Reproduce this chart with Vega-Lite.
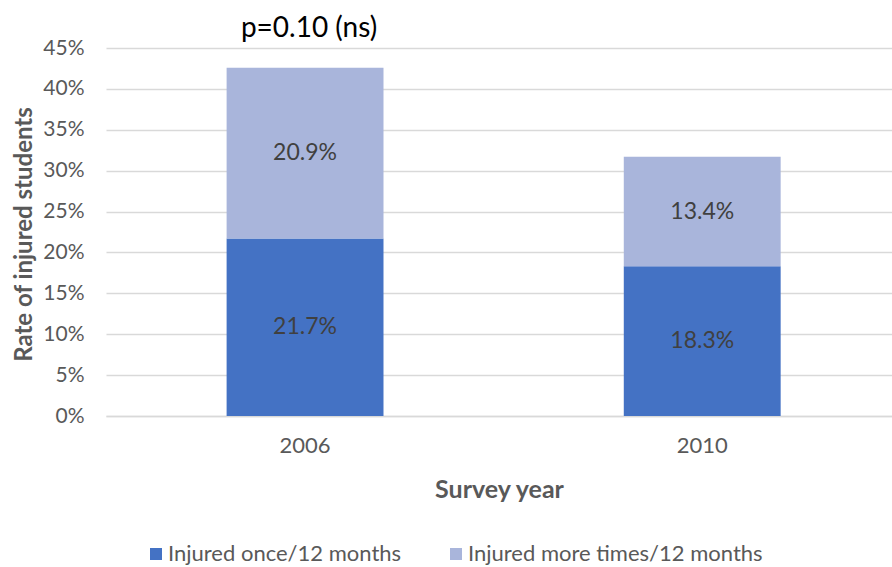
{
  "$schema": "https://vega.github.io/schema/vega-lite/v6.json",
  "autosize": "none",
  "width": 786,
  "height": 368,
  "padding": {"left": 106, "top": 48, "right": 0, "bottom": 151},
  "background": "white",
  "config": {
    "font": "Lato",
    "view": {"stroke": null}
  },
  "layer": [
    {
      "data": {
        "values": [
          {"year": "2006", "series": "Injured once/12 months", "ord": 1, "value": 0.217},
          {"year": "2006", "series": "Injured more times/12 months", "ord": 2, "value": 0.209},
          {"year": "2010", "series": "Injured once/12 months", "ord": 1, "value": 0.183},
          {"year": "2010", "series": "Injured more times/12 months", "ord": 2, "value": 0.134}
        ]
      },
      "transform": [
        {"stack": "value", "groupby": ["year"], "sort": [{"field": "ord", "order": "ascending"}], "as": ["v0", "v1"]},
        {"calculate": "(datum.v0 + datum.v1) / 2", "as": "mid"}
      ],
      "layer": [
        {
          "mark": {"type": "bar"},
          "encoding": {
            "x": {
              "field": "year", "type": "nominal",
              "scale": {"paddingInner": 0.605, "paddingOuter": 0.292, "align": 0.52},
              "axis": {
                "title": "Survey year", "labelAngle": 0, "ticks": false,
                "domainColor": "#D9D9D9", "domainWidth": 1.5,
                "labelFontSize": 22, "labelColor": "#595959", "labelPadding": 19,
                "titleFontSize": 25, "titleFontWeight": "bold", "titleColor": "#595959",
                "titleY": 73, "titleBaseline": "middle"
              }
            },
            "y": {
              "field": "v0", "type": "quantitative",
              "scale": {"domain": [0, 0.45]},
              "axis": {
                "title": "Rate of injured students", "format": ".0%",
                "values": [0, 0.05, 0.1, 0.15, 0.2, 0.25, 0.3, 0.35, 0.4, 0.45],
                "labelOverlap": false,
                "ticks": false, "domain": false,
                "gridColor": "#D9D9D9", "gridWidth": 1.5,
                "labelFontSize": 21, "labelColor": "#595959", "labelPadding": 22,
                "titleFontSize": 24, "titleFontWeight": "bold", "titleColor": "#595959",
                "titleX": -82, "titleY": 186, "titleAngle": 270, "titleAlign": "center", "titleBaseline": "middle"
              }
            },
            "y2": {"field": "v1"},
            "color": {
              "field": "series", "type": "nominal",
              "scale": {"domain": ["Injured once/12 months", "Injured more times/12 months"], "range": ["#4472C4", "#A9B5DB"]},
              "legend": {
                "title": null, "orient": "none", "direction": "horizontal",
                "legendX": 39, "legendY": 495,
                "symbolType": "square", "symbolSize": 144, "symbolStrokeWidth": 0,
                "labelFontSize": 22, "labelColor": "#595959", "labelLimit": 0,
                "columnPadding": 43, "symbolOffset": 0, "labelOffset": 1
              }
            }
          }
        },
        {
          "mark": {"type": "text", "fontSize": 23, "color": "#404040", "baseline": "middle"},
          "encoding": {
            "x": {"field": "year", "type": "nominal"},
            "y": {"field": "mid", "type": "quantitative"},
            "text": {"field": "value", "type": "quantitative", "format": ".1%"}
          }
        }
      ]
    },
    {
      "data": {"values": [{"year": "2006", "pos": 0.4727, "label": "p=0.10 (ns)"}]},
      "mark": {"type": "text", "fontSize": 28, "color": "#000000", "baseline": "middle", "dx": 4},
      "encoding": {
        "x": {"field": "year", "type": "nominal"},
        "y": {"field": "pos", "type": "quantitative"},
        "text": {"field": "label", "type": "nominal"}
      }
    }
  ]
}
